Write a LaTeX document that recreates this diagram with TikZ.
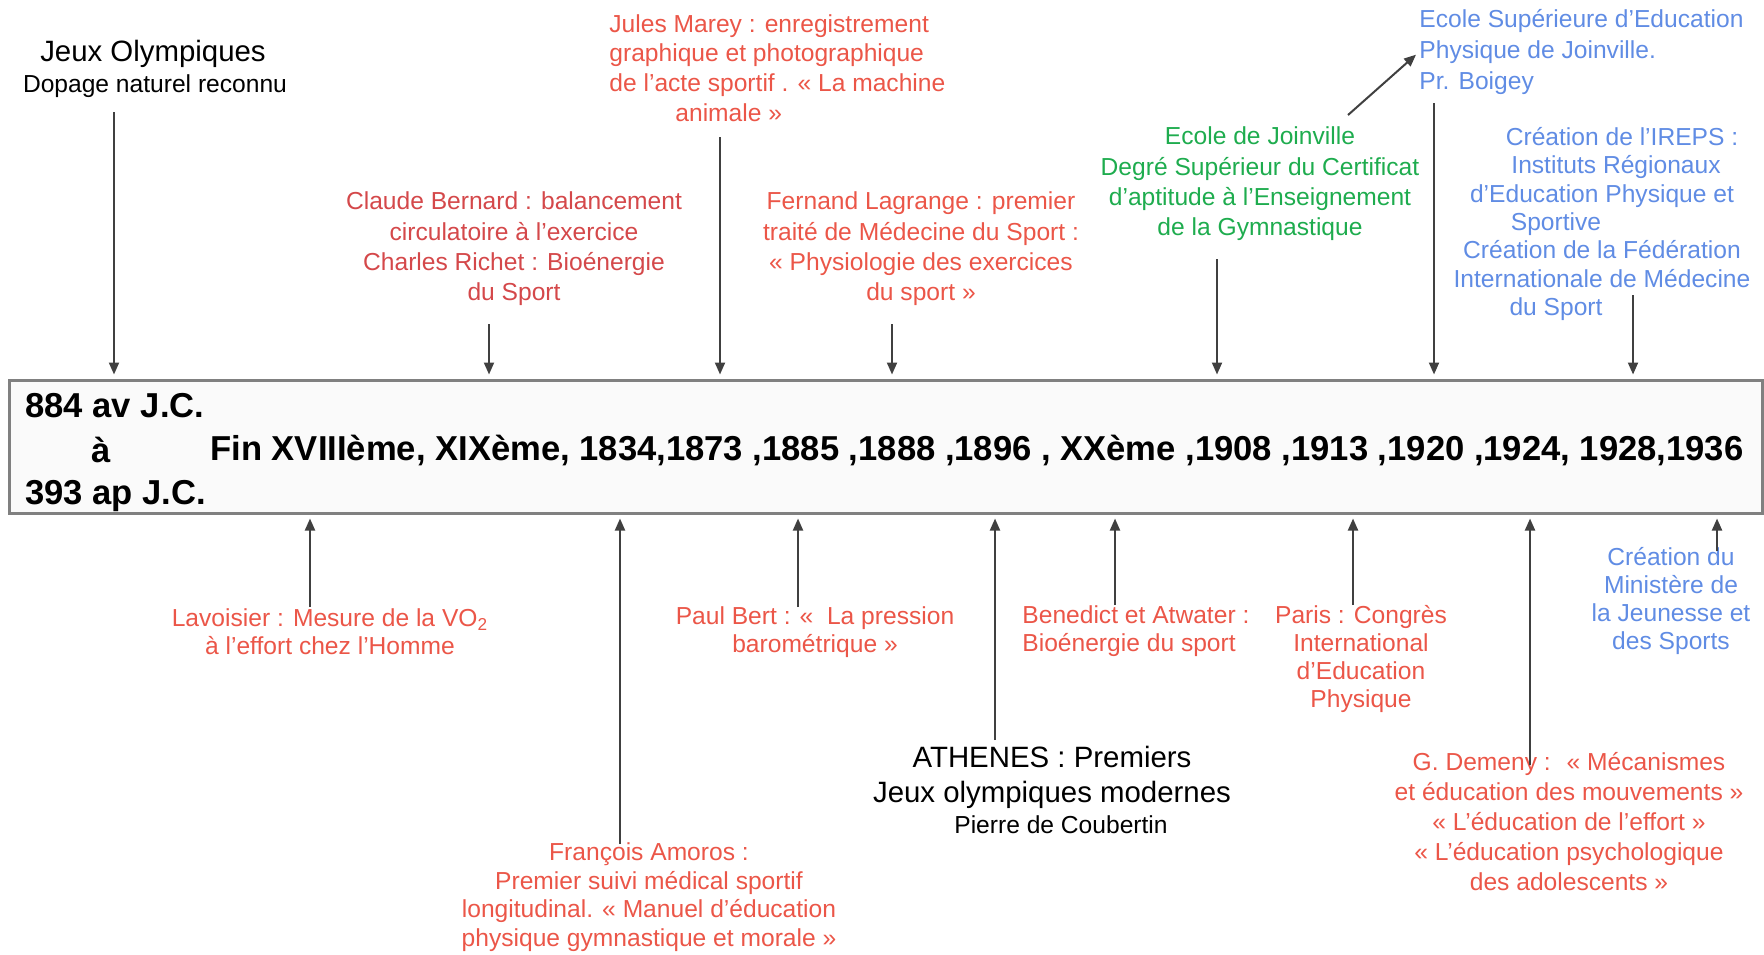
\documentclass[tikz,border=0pt]{standalone}
\usepackage{fontspec}
\setmainfont{Liberation Sans}
\usetikzlibrary{arrows.meta}
\definecolor{evred}{RGB}{235,86,72}
\definecolor{evdred}{RGB}{212,72,74}
\definecolor{evgreen}{RGB}{30,172,78}
\definecolor{evblue}{RGB}{96,140,228}
\newcommand{\evsize}{\fontsize{12.3}{14.8}\selectfont}
\newcommand{\bigsize}{\fontsize{14.7}{17.5}\selectfont}
\newcommand{\datesize}{\fontsize{17.3}{20}\selectfont\bfseries}

\begin{document}
\begin{tikzpicture}[x=0.5pt,y=-0.5pt]
  \tikzset{every node/.style={inner sep=0pt,align=center,font=\evsize},
           red event/.style={text=evred},
           blue event/.style={text=evblue},
           evarrow/.style={-{Triangle[length=6pt,width=5pt]},line width=1pt,draw=black!75,shorten >=2pt}}
  \useasboundingbox (0,0) rectangle (1764,954);
  \node[draw=black!50,line width=1.5pt,fill=black!2,minimum width=876.5pt,minimum height=66.5pt] (tl) at (885.5,446.5) {};
  \node[anchor=base west,font=\datesize] (d1) at (25,417) {884 av J.C.};
  \node[anchor=base,font=\datesize] (d2) at (101,462) {à};
  \node[anchor=base west,font=\datesize] (d3) at (25,504) {393 ap J.C.};
  \node[anchor=base west,font=\datesize] (d4) at (210,460) {Fin XVIIIème, XIXème, 1834,1873 ,1885 ,1888 ,1896 , XXème ,1908 ,1913 ,1920 ,1924, 1928,1936};
  \node[font=\bigsize] (jo) at (153,54) {Jeux Olympiques};
  \node (jo2) at (155,86) {Dopage naturel reconnu};
  \node[red event,anchor=west,align=left] (marey) at (609,68) {Jules Marey : enregistrement\\graphique et photographique\\de l'acte sportif . « La machine\\\hspace*{33pt}animale »};
  \node[text=evdred,font=\fontsize{12.3}{15.2}\selectfont] (bernard) at (514,249) {Claude Bernard : balancement\\circulatoire à l'exercice\\Charles Richet : Bioénergie\\du Sport};
  \node[red event,font=\fontsize{12.3}{15.2}\selectfont] (lagrange) at (921,249) {Fernand Lagrange : premier\\traité de Médecine du Sport :\\« Physiologie des exercices\\du sport »};
  \node[text=evgreen,font=\fontsize{12.3}{15.2}\selectfont] (joinv) at (1260,184) {Ecole de Joinville\\Degré Supérieur du Certificat\\d'aptitude à l'Enseignement\\de la Gymnastique};
  \node[blue event,anchor=west,align=left,font=\fontsize{12.3}{15.5}\selectfont] (boigey) at (1419,52) {Ecole Supérieure d'Education\\Physique de Joinville.\\Pr. Boigey};
  \node[blue event,font=\fontsize{12.3}{14.2}\selectfont] (ireps) at (1602,224) {\hspace*{20pt}Création de l'IREPS :\\\hspace*{14pt}Instituts Régionaux\\d'Education Physique et\\Sportive\hspace*{46pt}\null\\Création de la Fédération\\Internationale de Médecine\\du Sport\hspace*{46pt}\null};
  \node[red event,font=\fontsize{12.3}{14}\selectfont] (lavoisier) at (330,632) {Lavoisier : Mesure de la VO\textsubscript{2}\\à l'effort chez l'Homme};
  \node[red event,font=\fontsize{12.3}{14.3}\selectfont] (amoros) at (649,897) {François Amoros :\\Premier suivi médical sportif\\longitudinal. « Manuel d'éducation\\physique gymnastique et morale »};
  \node[red event,font=\fontsize{12.3}{14}\selectfont] (bert) at (815,632) {Paul Bert : «~ La pression\\barométrique »};
  \node[font=\bigsize] (athenes) at (1052,777) {ATHENES : Premiers\\Jeux olympiques modernes};
  \node (coub) at (1061,825) {Pierre de Coubertin};
  \node[red event,anchor=west,align=left,font=\fontsize{12.3}{14}\selectfont] (benedict) at (1022,631) {Benedict et Atwater :\\Bioénergie du sport};
  \node[red event,font=\fontsize{12.3}{14}\selectfont] (paris) at (1361,659) {Paris : Congrès\\International\\d'Education\\Physique};
  \node[blue event,font=\fontsize{12.3}{14}\selectfont] (minis) at (1671,601) {Création du\\Ministère de\\la Jeunesse et\\des Sports};
  \node[red event,font=\fontsize{12.3}{15}\selectfont] (demeny) at (1569,822) {G. Demeny :~ « Mécanismes\\et éducation des mouvements »\\« L'éducation de l'effort »\\« L'éducation psychologique\\des adolescents »};
  \coordinate (t1) at (114,112);
  \coordinate (t2) at (489,324);
  \coordinate (t3) at (720,137);
  \coordinate (t4) at (892,324);
  \coordinate (t5) at (1217,259);
  \coordinate (t6) at (1434,103);
  \coordinate (t7) at (1633,295);
  \coordinate (b1) at (310,607);
  \coordinate (b2) at (620,844);
  \coordinate (b3) at (798,607);
  \coordinate (b4) at (995,740);
  \coordinate (b5) at (1115,605);
  \coordinate (b6) at (1353,605);
  \coordinate (b7) at (1530,765);
  \coordinate (b8) at (1717,551);
  \coordinate (j1) at (1348,115);
  \foreach \c in {t1,t2,t3,t4,t5,t6,t7}
    \draw[evarrow] (\c) -- (\c |- tl.north);
  \foreach \c in {b1,b2,b3,b4,b5,b6,b7,b8}
    \draw[evarrow] (\c) -- (\c |- tl.south);
  \draw[evarrow] (j1) -- (boigey.west);
\end{tikzpicture}
\end{document}
